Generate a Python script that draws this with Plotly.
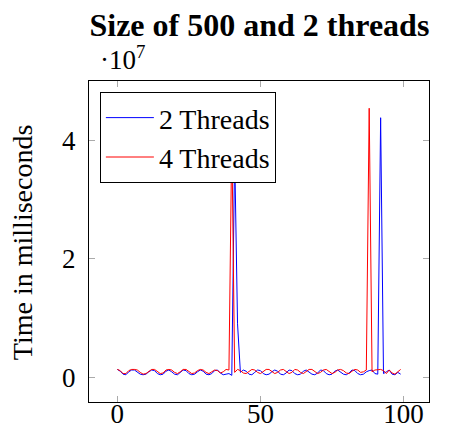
import plotly.graph_objects as go

# run index (0..99) and timings, in units of 1e6 ms
steps = list(range(100))

two_threads = [
    1.3, 1.0, 0.5, 0.4, 0.9, 1.2, 1.2, 0.9, 0.5, 0.4,
    0.5, 0.9, 1.2, 1.1, 0.6, 0.4, 0.5, 1.0, 1.2, 0.9,
    0.5, 0.4, 0.8, 1.2, 1.1, 0.6, 0.4, 0.5, 0.9, 1.2,
    1.0, 0.5, 0.4, 0.6, 1.1, 1.2, 0.7, 0.4, 0.5, 0.6,
    0.3, 38.0, 9.0, 0.8, 1.2, 1.0, 0.5, 0.4, 0.8, 1.2,
    1.1, 0.6, 0.4, 0.5, 0.9, 1.2, 1.0, 0.5, 0.4, 0.7,
    1.2, 1.1, 0.6, 0.4, 0.5, 1.0, 1.2, 0.9, 0.5, 0.4,
    0.7, 1.2, 1.1, 0.6, 0.4, 0.5, 1.0, 1.2, 0.9, 0.5,
    0.4, 0.7, 1.2, 1.1, 0.6, 0.4, 0.5, 0.9, 1.1, 1.2,
    0.6, 0.5, 43.8, 0.6, 0.9, 1.2, 0.5, 0.4, 0.8, 0.5,
]

four_threads = [
    1.3, 1.1, 0.6, 0.6, 1.1, 1.3, 1.3, 1.2, 0.8, 0.5,
    0.6, 1.0, 1.3, 1.3, 1.0, 0.6, 0.7, 1.2, 1.3, 1.2,
    0.8, 0.6, 0.9, 1.3, 1.3, 1.0, 0.6, 0.7, 1.1, 1.3,
    1.2, 0.8, 0.6, 0.9, 1.2, 1.1, 0.7, 0.9, 1.3, 1.2,
    41.0, 0.8, 1.3, 1.1, 0.7, 0.6, 1.0, 1.3, 1.2, 0.8,
    0.6, 0.9, 1.3, 1.3, 0.9, 0.6, 0.8, 1.2, 1.3, 1.0,
    0.6, 0.8, 1.3, 1.2, 0.8, 0.6, 0.9, 1.3, 1.3, 0.9,
    0.6, 0.8, 1.2, 1.3, 1.0, 0.6, 0.8, 1.2, 1.3, 1.1,
    0.7, 0.6, 1.0, 1.3, 1.2, 0.8, 0.9, 1.2, 45.4, 0.9,
    1.2, 1.3, 1.3, 1.1, 0.6, 1.2, 0.7, 0.5, 0.9, 1.3,
]

y_ticks = [0, 2e7, 4e7]
y_tick_labels = ['0', '2', '4']
x_ticks = [0, 50, 100]

font = 'Liberation Serif'

fig = go.Figure()
fig.add_trace(go.Scatter(x=steps, y=[v * 1e6 for v in two_threads], mode='lines',
                         name='2 Threads', line=dict(color='#0000ff', width=1)))
fig.add_trace(go.Scatter(x=steps, y=[v * 1e6 for v in four_threads], mode='lines',
                         name='4 Threads', line=dict(color='#ff0000', width=1)))

axis_style = dict(showline=True, mirror='ticks', linecolor='black', linewidth=1,
                  ticks='inside', ticklen=6, tickcolor='#aaaaaa', tickwidth=1,
                  showgrid=False, zeroline=False, automargin=False,
                  tickfont=dict(family=font, size=27, color='black'))

fig.update_xaxes(range=[-9.9, 108.9], tickvals=x_ticks, ticklabelstandoff=-12, **axis_style)
fig.update_yaxes(range=[-0.42e7, 5.0e7], tickvals=y_ticks, ticktext=y_tick_labels,
                 ticklabelstandoff=7, **axis_style)

# y axis label as a rotated annotation so it can sit further out
fig.add_annotation(text='Time in milliseconds', xref='paper', yref='paper',
                   x=-0.197, y=0.495, xanchor='center', yanchor='middle',
                   textangle=-90, showarrow=False,
                   font=dict(family=font, size=28, color='black'))

fig.add_annotation(text='·10<sup>7</sup>', xref='paper', yref='paper', x=0.025, y=1.0,
                   xanchor='left', yanchor='bottom', yshift=4, showarrow=False,
                   font=dict(family=font, size=27, color='black'))

# the page has an 8px body margin, so the plot area is placed 8px up and left
fig.update_layout(
    width=463, height=442,
    margin=dict(l=81, r=42, t=73, b=48),
    paper_bgcolor='white', plot_bgcolor='white',
    title=dict(text='<b>Size of 500 and 2 threads</b>', x=0.543, xanchor='center',
               y=0.962, yanchor='middle', yref='container',
               font=dict(family=font, size=32, color='black')),
    legend=dict(x=0.032, y=0.966, xanchor='left', yanchor='top',
                bgcolor='white', bordercolor='black', borderwidth=1,
                font=dict(family=font, size=28, color='black'),
                tracegroupgap=0, itemwidth=48),
    showlegend=True,
)

fig.write_html('out.html')
